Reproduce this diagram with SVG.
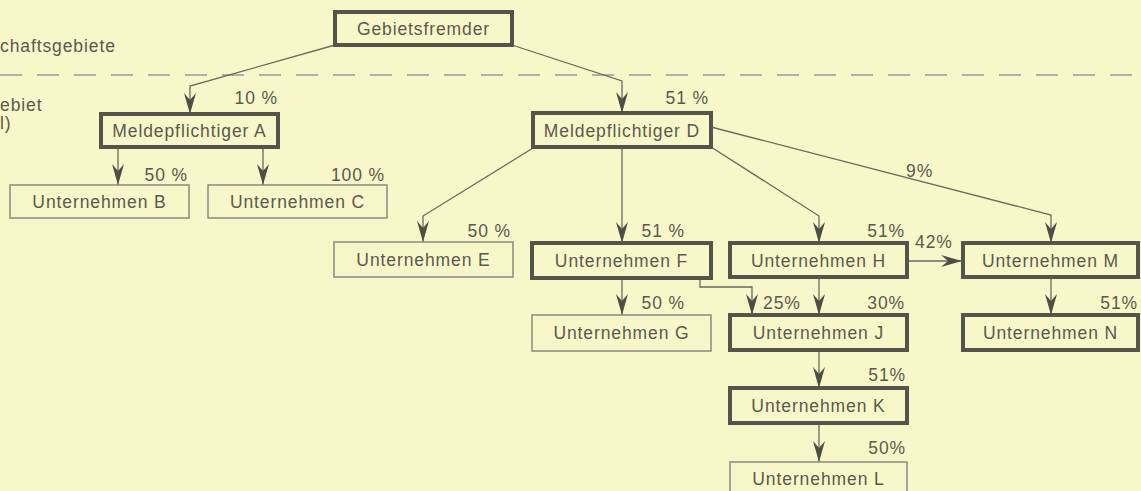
<svg xmlns="http://www.w3.org/2000/svg" width="1141" height="491" viewBox="0 0 1141 491">
<defs>
<style>
text{font-family:"Liberation Sans",Arial,sans-serif;font-size:17.5px;fill:#5a5a4e;letter-spacing:0.9px}
.c{text-anchor:middle}
.r{text-anchor:end}
.thick{fill:none;stroke:#54544a;stroke-width:4}
.thin{fill:none;stroke:#8a8a80;stroke-width:1.5}
.ln{fill:none;stroke:#6a6a60;stroke-width:1.3}
</style>
<marker id="ah" markerUnits="userSpaceOnUse" markerWidth="22" markerHeight="14" viewBox="0 0 22 14" refX="21" refY="7" orient="auto">
<path d="M0,1 L21,7 L0,13 L7,7 z" fill="#4e4e44"/>
</marker>
</defs>
<rect width="1141" height="491" fill="#f8f7c9"/>
<text x="0" y="52">chaftsgebiete</text>
<line x1="0" y1="75" x2="1141" y2="75" stroke="#b0b0a4" stroke-width="2" stroke-dasharray="22,15"/>
<text x="0" y="111">ebiet</text>
<text x="0" y="129">l)</text>
<g id="connectors">
<polyline class="ln" points="335,45 190,86 190,114" marker-end="url(#ah)"/>
<polyline class="ln" points="512,45 622,81 622,113" marker-end="url(#ah)"/>
<line class="ln" x1="118" y1="147" x2="118" y2="185" marker-end="url(#ah)"/>
<line class="ln" x1="263" y1="147" x2="263" y2="185" marker-end="url(#ah)"/>
<polyline class="ln" points="533,148 423,216 423,242" marker-end="url(#ah)"/>
<line class="ln" x1="622" y1="147" x2="622" y2="243" marker-end="url(#ah)"/>
<polyline class="ln" points="711,147 819,216 819,243" marker-end="url(#ah)"/>
<polyline class="ln" points="711,127 1051,215 1051,243" marker-end="url(#ah)"/>
<line class="ln" x1="622" y1="278" x2="622" y2="315" marker-end="url(#ah)"/>
<polyline class="ln" points="700,278 700,287 752,287 752,315" marker-end="url(#ah)"/>
<line class="ln" x1="819" y1="277" x2="819" y2="315" marker-end="url(#ah)"/>
<line class="ln" x1="907" y1="261" x2="962" y2="261" marker-end="url(#ah)"/>
<line class="ln" x1="1051" y1="277" x2="1051" y2="315" marker-end="url(#ah)"/>
<line class="ln" x1="819" y1="350" x2="819" y2="388" marker-end="url(#ah)"/>
<line class="ln" x1="819" y1="423" x2="819" y2="462" marker-end="url(#ah)"/>
<text class="r" x="278" y="104">10 %</text>
<text class="r" x="709" y="104">51 %</text>
<text class="r" x="188" y="181">50 %</text>
<text class="r" x="385" y="181">100 %</text>
<text x="906" y="177">9%</text>
<text class="r" x="511" y="237">50 %</text>
<text class="r" x="685" y="237">51 %</text>
<text class="r" x="905" y="237">51%</text>
<text x="915" y="248">42%</text>
<text class="r" x="685" y="309">50 %</text>
<text x="763" y="309">25%</text>
<text class="r" x="905" y="309">30%</text>
<text class="r" x="1138" y="309">51%</text>
<text class="r" x="906" y="381">51%</text>
<text class="r" x="906" y="454">50%</text>
</g>
<g id="gebietsfremder"><rect class="thick" x="335" y="12" width="177" height="33"/><text class="c" x="423.5" y="35">Gebietsfremder</text></g>
<g id="meldeA"><rect class="thick" x="101" y="114" width="177" height="33"/><text class="c" x="189.5" y="137">Meldepflichtiger A</text></g>
<g id="meldeD"><rect class="thick" x="533" y="113" width="178" height="34"/><text class="c" x="622" y="137">Meldepflichtiger D</text></g>
<g id="untB"><rect class="thin" x="10" y="185" width="179" height="33"/><text class="c" x="99.5" y="208">Unternehmen B</text></g>
<g id="untC"><rect class="thin" x="208" y="185" width="179" height="33"/><text class="c" x="297.5" y="208">Unternehmen C</text></g>
<g id="untE"><rect class="thin" x="334" y="242" width="179" height="35"/><text class="c" x="423.5" y="266">Unternehmen E</text></g>
<g id="untF"><rect class="thick" x="532" y="243" width="179" height="35"/><text class="c" x="621.5" y="267">Unternehmen F</text></g>
<g id="untG"><rect class="thin" x="532" y="315" width="179" height="36"/><text class="c" x="621.5" y="339">Unternehmen G</text></g>
<g id="untH"><rect class="thick" x="730" y="243" width="177" height="34"/><text class="c" x="818.5" y="267">Unternehmen H</text></g>
<g id="untM"><rect class="thick" x="963" y="243" width="175" height="34"/><text class="c" x="1050.5" y="267">Unternehmen M</text></g>
<g id="untJ"><rect class="thick" x="730" y="315" width="177" height="35"/><text class="c" x="818.5" y="339">Unternehmen J</text></g>
<g id="untN"><rect class="thick" x="963" y="315" width="175" height="35"/><text class="c" x="1050.5" y="339">Unternehmen N</text></g>
<g id="untK"><rect class="thick" x="730" y="388" width="177" height="35"/><text class="c" x="818.5" y="412">Unternehmen K</text></g>
<g id="untL"><rect class="thin" x="730" y="462" width="177" height="34"/><text class="c" x="818.5" y="485">Unternehmen L</text></g>
</svg>
